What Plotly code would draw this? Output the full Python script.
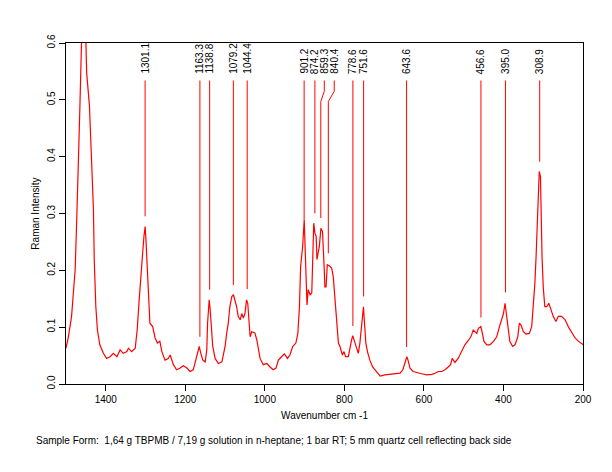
import plotly.graph_objects as go

# Spectrum (wavenumber cm-1, Raman intensity)
wavenumber = [1500, 1494, 1486, 1482, 1477, 1473, 1469, 1465, 1461, 1458, 1454, 1451, 1448, 1441, 1435, 1431,
              1429, 1425, 1421, 1415, 1406, 1398, 1389, 1381, 1372, 1364, 1356, 1347, 1343, 1335, 1326,
              1321, 1316, 1312, 1308, 1304, 1301, 1299, 1296, 1292, 1289, 1282, 1276, 1270, 1264, 1259,
              1251, 1243, 1238, 1230, 1222, 1213, 1205, 1196, 1188, 1180, 1173, 1167, 1165, 1161, 1156,
              1150, 1146, 1144, 1140, 1138, 1135, 1131, 1125, 1117, 1108, 1104, 1100, 1096, 1092, 1088,
              1083, 1079, 1075, 1071, 1067, 1062, 1058, 1054, 1050, 1046, 1043, 1040, 1037, 1033, 1025,
              1020, 1016, 1012, 1004, 995, 987, 979, 972, 966, 958, 951, 943, 937, 930, 922, 917, 913,
              910, 905, 901, 899, 896, 894, 891, 886, 882, 880, 877, 874, 871, 869, 866, 863, 859, 855,
              851, 849, 846, 843, 838, 832, 828, 824, 819, 815, 811, 805, 801, 797, 790, 786, 782, 779,
              775, 769, 765, 761, 756, 752, 750, 746, 742, 736, 729, 720, 710, 698, 685, 673, 660, 653,
              648, 643, 640, 635, 627, 618, 606, 593, 580, 572, 564, 555, 547, 539, 533, 529, 524, 522,
              514, 505, 497, 488, 482, 476, 472, 467, 463, 457, 453, 449, 442, 434, 425, 417, 410, 404,
              400, 396, 392, 388, 384, 377, 371, 364, 360, 356, 350, 343, 335, 329, 325, 321, 318, 315,
              312, 310, 307, 306, 303, 300, 296, 291, 286, 280, 275, 268, 262, 254, 245, 237, 228, 220,
              211, 203, 199]
intensity = [0.063, 0.083, 0.119, 0.160, 0.201, 0.289, 0.372, 0.489, 0.600, 0.650, 0.670, 0.630, 0.547, 0.489, 0.395, 0.307,
             0.219, 0.136, 0.095, 0.069, 0.054, 0.045, 0.048, 0.054, 0.048, 0.060, 0.054, 0.057, 0.063, 0.057, 0.063,
             0.095, 0.148, 0.195, 0.224, 0.260, 0.277, 0.254, 0.201, 0.154, 0.107, 0.101, 0.081, 0.072, 0.075, 0.057,
             0.042, 0.045, 0.051, 0.034, 0.025, 0.028, 0.032, 0.028, 0.022, 0.025, 0.042, 0.060, 0.066, 0.054, 0.042,
             0.039, 0.060, 0.107, 0.148, 0.136, 0.101, 0.066, 0.045, 0.036, 0.039, 0.051, 0.066, 0.089, 0.107, 0.136,
             0.154, 0.157, 0.148, 0.136, 0.119, 0.113, 0.124, 0.116, 0.124, 0.148, 0.142, 0.101, 0.083, 0.092, 0.090,
             0.077, 0.060, 0.045, 0.034, 0.036, 0.030, 0.025, 0.028, 0.042, 0.048, 0.053, 0.045, 0.051, 0.066, 0.072, 0.089, 0.136,
             0.207, 0.242, 0.289, 0.236, 0.166, 0.139, 0.166, 0.157, 0.160, 0.224, 0.283, 0.265, 0.260, 0.219, 0.230, 0.242, 0.274, 0.268,
             0.207, 0.171, 0.171, 0.210, 0.208, 0.204, 0.189, 0.154, 0.107, 0.072, 0.066, 0.051, 0.057, 0.048, 0.048, 0.066, 0.077, 0.085,
             0.075, 0.063, 0.054, 0.072, 0.113, 0.136, 0.113, 0.072, 0.057, 0.042, 0.030, 0.022, 0.014, 0.016, 0.017, 0.017, 0.019, 0.025,
             0.039, 0.048, 0.042, 0.028, 0.022, 0.020, 0.018, 0.016, 0.017, 0.019, 0.022, 0.022, 0.025, 0.030, 0.034, 0.045, 0.039, 0.038,
             0.045, 0.057, 0.069, 0.077, 0.083, 0.095, 0.092, 0.089, 0.098, 0.101, 0.089, 0.075, 0.069, 0.069, 0.075, 0.083, 0.101, 0.116,
             0.124, 0.142, 0.119, 0.095, 0.075, 0.066, 0.069, 0.083, 0.107, 0.104, 0.092, 0.088, 0.089, 0.101, 0.136, 0.177, 0.224, 0.289,
             0.348, 0.374, 0.365, 0.301, 0.224, 0.171, 0.136, 0.136, 0.142, 0.130, 0.119, 0.110, 0.119, 0.119, 0.113, 0.101, 0.089, 0.081,
             0.075, 0.070, 0.069]

# Peak labels
peak_labels = ["1301.1", "1163.3", "1138.8", "1079.2", "1044.4", "901.2", "874.2", "859.3", "840.4",
               "778.6", "751.6", "643.6", "456.6", "395.0", "308.9"]
peak_pos = [1301.1, 1163.3, 1138.8, 1079.2, 1044.4, 901.2, 874.2, 859.3, 840.4,
            778.6, 751.6, 643.6, 456.6, 395.0, 308.9]
label_pos = [1301.1, 1163.3, 1138.8, 1079.2, 1044.4, 901.2, 874.2, 850.5, 825.5,
             778.6, 751.6, 643.6, 456.6, 395.0, 308.9]
line_bottom = [0.295, 0.083, 0.166, 0.174, 0.167, 0.289, 0.300, 0.292, 0.230,
               0.102, 0.154, 0.065, 0.117, 0.161, 0.391]
line_top = 0.534
kink_top = 0.515
kink_bottom = 0.497

fig = go.Figure()
fig.add_trace(go.Scatter(x=wavenumber, y=intensity, mode="lines",
                         line=dict(color="#ff0000", width=1.2), hoverinfo="skip"))

lx, ly = [], []
for p, lp, b in zip(peak_pos, label_pos, line_bottom):
    if lp != p:
        lx += [lp, lp, p, p, None]
        ly += [line_top, kink_top, kink_bottom, b, None]
    else:
        lx += [p, p, None]
        ly += [line_top, b, None]
fig.add_trace(go.Scatter(x=lx, y=ly, mode="lines", line=dict(color="#ff0000", width=1),
                         hoverinfo="skip"))

for t, lp in zip(peak_labels, label_pos):
    fig.add_annotation(x=lp, y=0.542, xref="x", yref="y", text=t, showarrow=False,
                       textangle=-90, xanchor="center", yanchor="bottom",
                       font=dict(size=10, color="black"))

fig.add_annotation(x=-0.062, y=-0.167, xref="paper", yref="paper", xanchor="left", yanchor="middle",
                   text="Sample Form:  1,64 g TBPMB / 7,19 g solution in n-heptane; 1 bar RT; 5 mm quartz cell reflecting back side",
                   showarrow=False, font=dict(size=10, color="black"))

axis_common = dict(showgrid=False, zeroline=False, showline=True, linecolor="black", linewidth=1,
                   mirror=True, ticks="outside", ticklen=6, tickcolor="black", automargin=False,
                   tickfont=dict(size=10, color="black"))
fig.update_layout(
    width=612, height=472,
    margin=dict(l=66, r=29, t=43, b=88),
    paper_bgcolor="white", plot_bgcolor="white",
    showlegend=False,
    font=dict(family="Liberation Sans, Arial, sans-serif", size=10, color="black"),
    xaxis=dict(range=[1500, 200], tickvals=[1400, 1200, 1000, 800, 600, 400, 200],
               title=dict(text="Wavenumber cm -1", font=dict(size=10), standoff=7), **axis_common),
    yaxis=dict(range=[0, 0.6], tickvals=[0, 0.1, 0.2, 0.3, 0.4, 0.5, 0.6], tickformat=".1f",
               tickangle=-90,
               title=dict(text="Raman Intensity", font=dict(size=10), standoff=4), **axis_common),
)

fig.write_html("out.html", config={"displayModeBar": False},
               post_script="document.body.style.margin='0';")
